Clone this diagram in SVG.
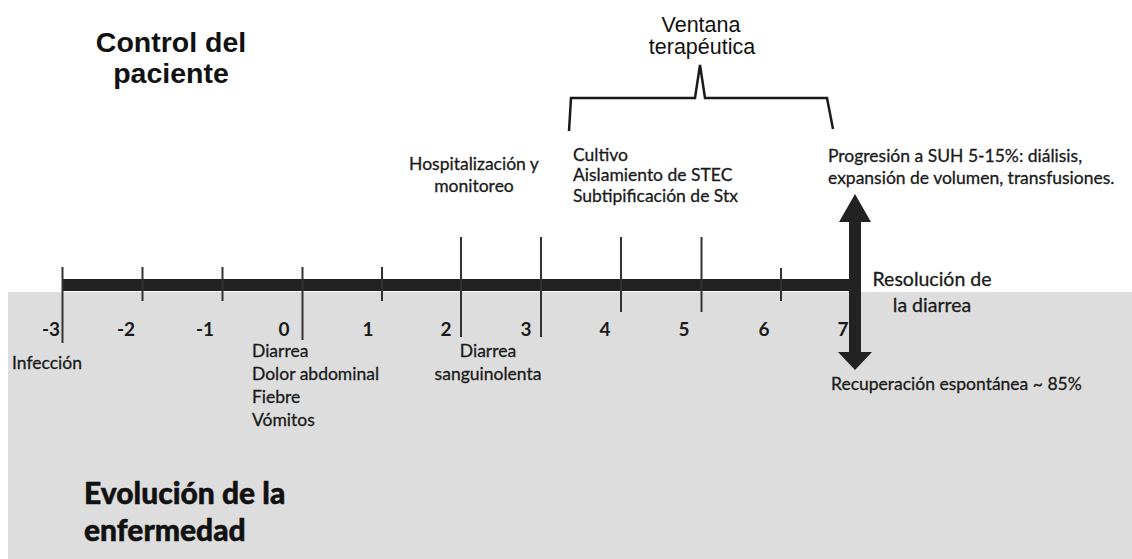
<svg xmlns="http://www.w3.org/2000/svg" width="1132" height="559" viewBox="0 0 1132 559">
<style>
.t{font-family:Lato,"Open Sans",sans-serif;font-size:17.5px;fill:#1a1a1a;stroke:#1a1a1a;stroke-width:0.3}
.r{font-family:Lato,"Open Sans",sans-serif;font-size:19.5px;fill:#1a1a1a;stroke:#1a1a1a;stroke-width:0.3}
.num{font-family:Lato,"Open Sans",sans-serif;font-size:19px;font-weight:bold;fill:#1a1a1a}
.h1{font-family:"Liberation Sans",Arial,sans-serif;font-size:28.5px;font-weight:bold;fill:#111}
.h2{font-family:Lato,"Open Sans",sans-serif;font-size:30px;font-weight:900;fill:#111;stroke:#111;stroke-width:0.5}
.vt{font-family:"Liberation Sans",Arial,sans-serif;font-size:21.5px;fill:#111}
.tick{stroke:#333;stroke-width:2;fill:none}
</style>
<rect x="0" y="0" width="1132" height="559" fill="#ffffff"/>
<rect id="bg" x="8" y="292" width="1124" height="267" fill="#dddddd"/>
<g id="connectors">
  <rect x="62" y="279" width="794" height="12" fill="#222"/>
  <line class="tick" x1="62.5" y1="267" x2="62.5" y2="343"/>
  <line class="tick" x1="142.5" y1="267" x2="142.5" y2="301"/>
  <line class="tick" x1="222.5" y1="267" x2="222.5" y2="301"/>
  <line class="tick" x1="302.5" y1="267" x2="302.5" y2="340"/>
  <line class="tick" x1="382" y1="267" x2="382" y2="301"/>
  <line class="tick" x1="461" y1="237" x2="461" y2="337"/>
  <line class="tick" x1="541" y1="237" x2="541" y2="337"/>
  <line class="tick" x1="621" y1="237" x2="621" y2="312"/>
  <line class="tick" x1="701.5" y1="237" x2="701.5" y2="312"/>
  <line class="tick" x1="781" y1="268" x2="781" y2="301"/>
  <path d="M855 194 L871 222 L861 222 L861 352 L872 352 L855 370 L838 352 L849 352 L849 222 L839 222 Z" fill="#222"/>
  <path d="M569 131 L571 98 L695 98 L700 65 L705 98 L827 98 L833 129" fill="none" stroke="#1a1a1a" stroke-width="2.5" stroke-linejoin="miter"/>
</g>
<g id="title-top">
  <text class="h1" x="171" y="52" text-anchor="middle">Control del</text>
  <text class="h1" x="171" y="83" text-anchor="middle">paciente</text>
</g>
<g id="ventana">
  <text class="vt" x="701" y="32" text-anchor="middle">Ventana</text>
  <text class="vt" x="702" y="54" text-anchor="middle">terapéutica</text>
</g>
<g id="hospital">
  <text class="t" x="474" y="170" text-anchor="middle">Hospitalización y</text>
  <text class="t" x="474" y="192" text-anchor="middle">monitoreo</text>
</g>
<g id="cultivo">
  <text class="t" x="573" y="161">Cultivo</text>
  <text class="t" x="573" y="181">Aislamiento de STEC</text>
  <text class="t" x="573" y="202">Subtipificación de Stx</text>
</g>
<g id="progresion">
  <text class="t" x="828" y="162">Progresión a SUH 5-15%: diálisis,</text>
  <text class="t" x="828" y="184">expansión de volumen, transfusiones.</text>
</g>
<g id="numbers">
  <text class="num" x="51" y="336" text-anchor="middle">-3</text>
  <text class="num" x="126" y="336" text-anchor="middle">-2</text>
  <text class="num" x="205" y="336" text-anchor="middle">-1</text>
  <text class="num" x="284" y="336" text-anchor="middle">0</text>
  <text class="num" x="368" y="336" text-anchor="middle">1</text>
  <text class="num" x="446" y="336" text-anchor="middle">2</text>
  <text class="num" x="526" y="336" text-anchor="middle">3</text>
  <text class="num" x="605" y="336" text-anchor="middle">4</text>
  <text class="num" x="684" y="336" text-anchor="middle">5</text>
  <text class="num" x="764" y="336" text-anchor="middle">6</text>
  <text class="num" x="843" y="336" text-anchor="middle">7</text>
</g>
<g id="infeccion">
  <text class="t" x="12" y="369">Infección</text>
</g>
<g id="sintomas">
  <text class="t" x="252" y="357">Diarrea</text>
  <text class="t" x="252" y="380">Dolor abdominal</text>
  <text class="t" x="252" y="403">Fiebre</text>
  <text class="t" x="252" y="426">Vómitos</text>
</g>
<g id="sanguinolenta">
  <text class="t" x="488" y="357" text-anchor="middle">Diarrea</text>
  <text class="t" x="488" y="380" text-anchor="middle">sanguinolenta</text>
</g>
<g id="resolucion">
  <text class="r" x="932" y="286" text-anchor="middle">Resolución de</text>
  <text class="r" x="932" y="312" text-anchor="middle">la diarrea</text>
</g>
<g id="recuperacion">
  <text class="t" x="831" y="390">Recuperación espontánea ~ 85%</text>
</g>
<g id="title-bottom">
  <text class="h2" x="84" y="504">Evolución de la</text>
  <text class="h2" x="84" y="541">enfermedad</text>
</g>
</svg>
